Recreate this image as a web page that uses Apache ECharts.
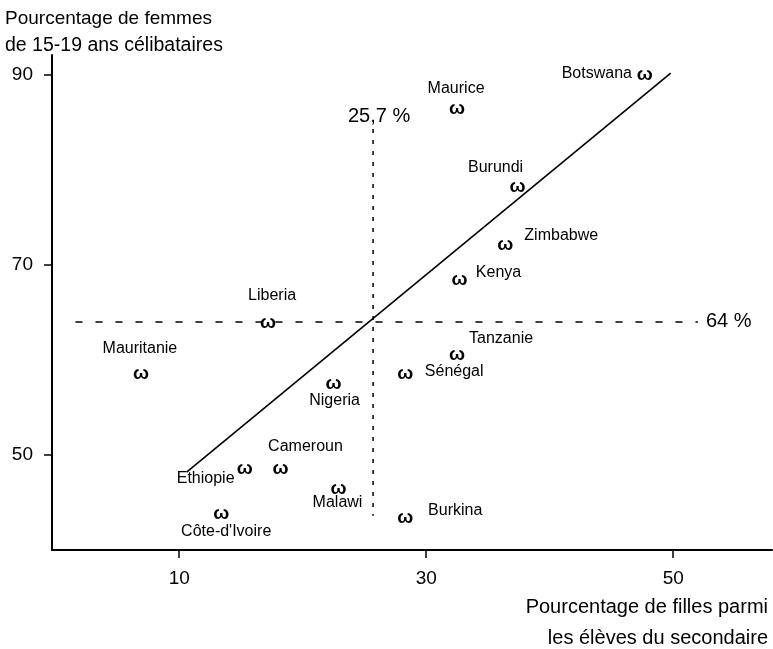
<!DOCTYPE html>
<html>
<head>
<meta charset="utf-8">
<script src="https://cdn.jsdelivr.net/npm/echarts@6/dist/echarts.min.js"></script>
<style>
html,body{margin:0;padding:0;background:#fff;}
#chart{width:773px;height:649px;}
</style>
</head>
<body>
<div id="chart"></div>
<script>
// ---- data ----
const countries = ['Botswana','Maurice','Burundi','Zimbabwe','Kenya','Liberia','Tanzanie','Sénégal','Mauritanie','Nigeria','Cameroun','Ethiopie','Malawi','Côte-d\'Ivoire','Burkina'];
const girlsShare = [47.7, 32.5, 37.4, 36.4, 32.7, 17.2, 32.5, 28.3, 6.9, 22.5, 18.2, 15.3, 22.9, 13.4, 28.3];
const singleWomen = [90.0, 86.4, 78.2, 72.1, 68.4, 63.9, 60.6, 58.6, 58.6, 57.5, 48.5, 48.5, 46.4, 43.8, 43.4];
const regressionX = [10.6, 49.8];
const regressionY = [48.2, 90.2];
const meanX = 25.7;          // vertical reference (25,7 %)
const meanY = 64;            // horizontal reference (64 %)
const meanXSpanY = [84.3, 43.6];
const meanYSpanX = [1.6, 52.0];
const xTicks = [10, 30, 50];
const yTicks = [50, 70, 90];

// label offsets (styling, px relative to marker)
const labelOffsets = {
  'Botswana':[-48,-1],'Maurice':[-1,-21],'Burundi':[-22,-19],'Zimbabwe':[56,-9],'Kenya':[39,-8],
  'Liberia':[4,-27],'Tanzanie':[44,-16],'Sénégal':[49,-2],'Mauritanie':[-1,-25],'Nigeria':[1,17],
  'Cameroun':[25,-23],'Ethiopie':[-39,9],'Malawi':[-1,13],'Côte-d\'Ivoire':[5,18],'Burkina':[50,-7]
};

const FONT = 'Liberation Sans, Arial, Helvetica, sans-serif';
const chart = echarts.init(document.getElementById('chart'));

const pts = countries.map((c,i)=>[girlsShare[i], singleWomen[i]]);
const namePts = countries.map((c,i)=>({
  value:[girlsShare[i], singleWomen[i]],
  name:c,
  label:{offset:labelOffsets[c]}
}));
const txt = {color:'#000', opacity:1, textBorderWidth:0, fontFamily:FONT};

chart.setOption({
  animation:false,
  backgroundColor:'#fff',
  grid:{left:52, right:1, top:55, bottom:99, containLabel:false},
  xAxis:{
    type:'value', min:-0.3, max:58,
    axisLine:{show:true, onZero:false, lineStyle:{color:'#000', width:2}},
    axisTick:{show:true, customValues:xTicks, length:8, lineStyle:{color:'#000', width:1.5}},
    axisLabel:{show:true, customValues:xTicks, margin:19, color:'#000', fontSize:19, fontFamily:FONT},
    splitLine:{show:false}
  },
  yAxis:{
    type:'value', min:40, max:92.1,
    axisLine:{show:true, onZero:false, lineStyle:{color:'#000', width:2}},
    axisTick:{show:true, customValues:yTicks, length:8, lineStyle:{color:'#000', width:1.5}},
    axisLabel:{show:true, customValues:yTicks, margin:19, color:'#000', fontSize:19, fontFamily:FONT},
    splitLine:{show:false}
  },
  graphic:[
    {type:'text', left:5, top:9, style:{text:'Pourcentage de femmes', font:'19px '+FONT, fill:'#000'}},
    {type:'text', left:5, top:36, style:{text:'de 15-19 ans célibataires', font:'19.5px '+FONT, fill:'#000'}},
    {type:'text', right:5, top:597, style:{text:'Pourcentage de filles parmi', font:'20px '+FONT, fill:'#000'}},
    {type:'text', right:5, top:628, style:{text:'les élèves du secondaire', font:'20px '+FONT, fill:'#000'}}
  ],
  series:[
    {
      type:'line', data:regressionX.map((x,i)=>[x, regressionY[i]]),
      symbol:'none', lineStyle:{color:'#000', width:1.6}, z:2
    },
    {
      type:'line',
      data:[[meanYSpanX[0], meanY],[meanYSpanX[1], meanY]],
      symbol:'none',
      lineStyle:{color:'#000', width:1.5, type:[7,13]}, z:2
    },
    {
      type:'line',
      data:[[meanX, meanXSpanY[0]],[meanX, meanXSpanY[1]]],
      symbol:'none',
      lineStyle:{color:'#000', width:1.5, type:[4,7]}, z:2
    },
    {
      type:'scatter', symbolSize:0.1, itemStyle:{color:'#000'},
      data:[
        {value:[meanX, meanXSpanY[0]], label:{show:true, position:'inside', offset:[6,-13], formatter:'25,7 %'}},
        {value:[meanYSpanX[1], meanY], label:{show:true, position:'inside', align:'left', offset:[8,0], formatter:'64 %'}}
      ],
      label:Object.assign({fontSize:20}, txt),
      z:5
    },
    {
      type:'scatter', data:pts, symbolSize:0.1,
      itemStyle:{color:'#000'},
      label:Object.assign({show:true, position:'inside', formatter:'ω', fontSize:19, fontWeight:'bold'}, txt),
      z:5
    },
    {
      type:'scatter', data:namePts, symbolSize:0.1,
      itemStyle:{color:'#000'},
      label:Object.assign({show:true, position:'inside', align:'center', verticalAlign:'middle', formatter:'{b}', fontSize:16}, txt),
      z:5
    }
  ]
});
</script>
</body>
</html>
